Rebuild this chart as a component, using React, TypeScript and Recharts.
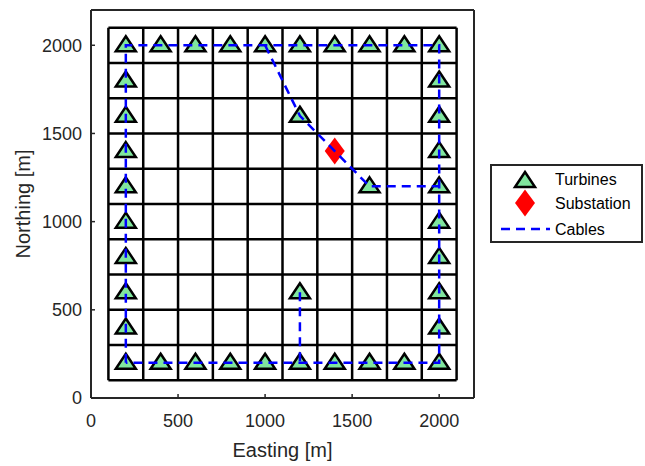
import { ScatterChart, Scatter, XAxis, YAxis, ReferenceLine, Legend } from 'recharts';

const FONT = '"Liberation Sans", Arial, Helvetica, sans-serif';
const AXIS_COLOR = '#262626';
const TURBINE_FILL = '#80E69E';
const CABLE_COLOR = '#0000FF';

const axisTicks = [0, 500, 1000, 1500, 2000];
const gridLines = [100, 300, 500, 700, 900, 1100, 1300, 1500, 1700, 1900, 2100];

const turbines = [
  // north row
  { x: 200, y: 2000 }, { x: 400, y: 2000 }, { x: 600, y: 2000 }, { x: 800, y: 2000 }, { x: 1000, y: 2000 },
  { x: 1200, y: 2000 }, { x: 1400, y: 2000 }, { x: 1600, y: 2000 }, { x: 1800, y: 2000 }, { x: 2000, y: 2000 },
  // south row
  { x: 200, y: 200 }, { x: 400, y: 200 }, { x: 600, y: 200 }, { x: 800, y: 200 }, { x: 1000, y: 200 },
  { x: 1200, y: 200 }, { x: 1400, y: 200 }, { x: 1600, y: 200 }, { x: 1800, y: 200 }, { x: 2000, y: 200 },
  // west column
  { x: 200, y: 400 }, { x: 200, y: 600 }, { x: 200, y: 800 }, { x: 200, y: 1000 },
  { x: 200, y: 1200 }, { x: 200, y: 1400 }, { x: 200, y: 1600 }, { x: 200, y: 1800 },
  // east column
  { x: 2000, y: 400 }, { x: 2000, y: 600 }, { x: 2000, y: 800 }, { x: 2000, y: 1000 },
  { x: 2000, y: 1200 }, { x: 2000, y: 1400 }, { x: 2000, y: 1600 }, { x: 2000, y: 1800 },
  // inner
  { x: 1200, y: 1600 }, { x: 1600, y: 1200 }, { x: 1200, y: 600 },
];

const substation = [{ x: 1400, y: 1400 }];

const cablePerimeter = [
  { x: 200, y: 200 }, { x: 200, y: 2000 }, { x: 2000, y: 2000 }, { x: 2000, y: 200 }, { x: 200, y: 200 },
];
const cableDiagonal = [
  { x: 1000, y: 2000 }, { x: 1200, y: 1600 }, { x: 1400, y: 1400 }, { x: 1600, y: 1200 }, { x: 2000, y: 1200 },
];
const cableSouth = [{ x: 1200, y: 600 }, { x: 1200, y: 200 }];

const cables = [cablePerimeter, cableDiagonal, cableSouth];

function trianglePath(cx: number, cy: number) {
  return `M${cx},${cy - 9} L${cx + 10},${cy + 6} L${cx - 10},${cy + 6} Z`;
}

function diamondPath(cx: number, cy: number) {
  return `M${cx},${cy - 13.5} L${cx + 10},${cy} L${cx},${cy + 13.5} L${cx - 10},${cy} Z`;
}

const TurbineShape = (props: any) => (
  <path d={trianglePath(props.cx, props.cy)} fill={TURBINE_FILL} stroke="#000" strokeWidth={2.5} />
);

const SubstationShape = (props: any) => <path d={diamondPath(props.cx, props.cy)} fill="#FF0000" />;

const NoShape = () => <g />;

function LegendBox() {
  return (
    <div style={{ width: 149, height: 75, border: `2px solid ${AXIS_COLOR}`, background: '#fff' }}>
      <svg width={149} height={75} style={{ display: 'block', fontFamily: FONT }}>
        <path d={trianglePath(33, 15)} fill={TURBINE_FILL} stroke="#000" strokeWidth={2.5} />
        <path d={diamondPath(33, 37)} fill="#FF0000" />
        <line x1={9} x2={58} y1={63} y2={63} stroke={CABLE_COLOR} strokeWidth={2.5} strokeDasharray="9 6" />
        <text x={63} y={13} fontSize={16} dominantBaseline="central" fill="#000">Turbines</text>
        <text x={63} y={37} fontSize={16} dominantBaseline="central" fill="#000">Substation</text>
        <text x={63} y={63} fontSize={16} dominantBaseline="central" fill="#000">Cables</text>
      </svg>
    </div>
  );
}

export default function App() {
  const axisLine = { stroke: AXIS_COLOR, strokeWidth: 2 };
  const tickLine = { stroke: AXIS_COLOR, strokeWidth: 1.5 };
  const tickStyle = { fontSize: 18, fill: AXIS_COLOR, fontFamily: FONT };

  return (
    <div style={{ position: 'absolute', left: 0, top: 0, width: 645, height: 466, background: '#fff' }}>
      <ScatterChart
        width={645}
        height={466}
        margin={{ top: 9, right: 170, bottom: 0, left: 0 }}
        style={{ fontFamily: FONT }}
      >
        <XAxis
          xAxisId={0}
          dataKey="x"
          type="number"
          domain={[0, 2200]}
          ticks={axisTicks}
          interval={0}
          height={68}
          axisLine={axisLine}
          tickLine={tickLine}
          tickSize={-4}
          tickMargin={20}
          tick={tickStyle}
          label={{ value: 'Easting [m]', position: 'insideBottom', offset: 9, fill: AXIS_COLOR, fontSize: 20 }}
        />
        <XAxis
          xAxisId="top"
          orientation="top"
          type="number"
          domain={[0, 2200]}
          ticks={axisTicks}
          interval={0}
          height={1}
          axisLine={axisLine}
          tickLine={tickLine}
          tickSize={-4}
          tick={false}
        />
        <YAxis
          yAxisId={0}
          dataKey="y"
          type="number"
          domain={[0, 2200]}
          ticks={axisTicks}
          interval={0}
          width={91}
          axisLine={axisLine}
          tickLine={tickLine}
          tickSize={-4}
          tickMargin={13}
          tick={tickStyle}
          label={{
            value: 'Northing [m]',
            position: 'insideLeft',
            angle: -90,
            offset: 23,
            fill: AXIS_COLOR,
            fontSize: 20,
            style: { textAnchor: 'middle' },
          }}
        />
        <YAxis
          yAxisId="right"
          orientation="right"
          type="number"
          domain={[0, 2200]}
          ticks={axisTicks}
          interval={0}
          width={1}
          axisLine={axisLine}
          tickLine={tickLine}
          tickSize={-4}
          tick={false}
        />

        {gridLines.map((g) => (
          <ReferenceLine
            key={`v${g}`}
            segment={[{ x: g, y: 100 }, { x: g, y: 2100 }]}
            stroke="#000"
            strokeWidth={2.5}
            zIndex={100}
          />
        ))}
        {gridLines.map((g) => (
          <ReferenceLine
            key={`h${g}`}
            segment={[{ x: 100, y: g }, { x: 2100, y: g }]}
            stroke="#000"
            strokeWidth={2.5}
            zIndex={100}
          />
        ))}

        <Scatter name="Turbines" data={turbines} shape={TurbineShape} zIndex={600} isAnimationActive={false} />
        <Scatter name="Substation" data={substation} shape={SubstationShape} zIndex={600} isAnimationActive={false} />
        {cables.map((c, i) => (
          <Scatter
            key={i}
            name="Cables"
            data={c}
            shape={NoShape}
            line={{ stroke: CABLE_COLOR, strokeWidth: 2.5, strokeDasharray: '9 6' }}
            legendType="none"
            zIndex={800}
            isAnimationActive={false}
          />
        ))}

        <Legend
          layout="vertical"
          align="center"
          verticalAlign="middle"
          content={() => <LegendBox />}
          wrapperStyle={{ left: 490, top: 164, width: 153, height: 79 }}
        />
      </ScatterChart>
    </div>
  );
}
